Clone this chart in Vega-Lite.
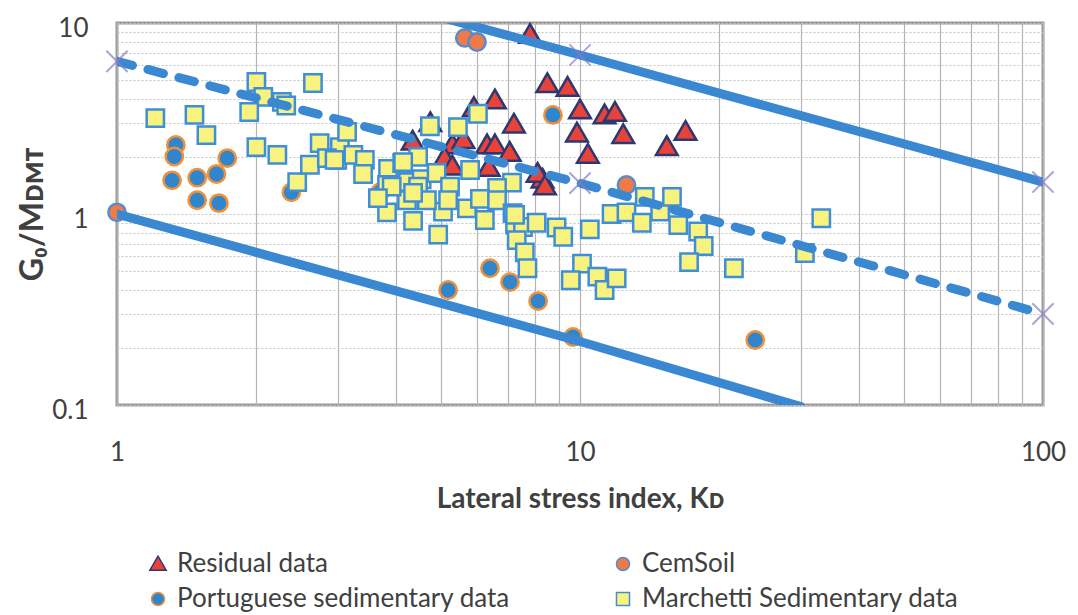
{
  "$schema": "https://vega.github.io/schema/vega-lite/v6.json",
  "autosize": "none",
  "width": 926,
  "height": 382,
  "padding": {"left": 117, "top": 23, "right": 35, "bottom": 210},
  "background": "white",
  "config": {
    "font": "Lato",
    "view": {"stroke": "#9a9a9a", "strokeWidth": 3}
  },
  "datasets": {
    "pts": [
      {"series": "Portuguese sedimentary data", "kd": 1.34, "g": 2.30},
      {"series": "Portuguese sedimentary data", "kd": 1.33, "g": 2.0},
      {"series": "Portuguese sedimentary data", "kd": 1.315, "g": 1.50},
      {"series": "Portuguese sedimentary data", "kd": 1.49, "g": 1.55},
      {"series": "Portuguese sedimentary data", "kd": 1.64, "g": 1.62},
      {"series": "Portuguese sedimentary data", "kd": 1.73, "g": 1.96},
      {"series": "Portuguese sedimentary data", "kd": 1.49, "g": 1.18},
      {"series": "Portuguese sedimentary data", "kd": 1.66, "g": 1.14},
      {"series": "Portuguese sedimentary data", "kd": 2.38, "g": 1.30},
      {"series": "Portuguese sedimentary data", "kd": 3.70, "g": 1.30},
      {"series": "Portuguese sedimentary data", "kd": 6.39, "g": 0.52},
      {"series": "Portuguese sedimentary data", "kd": 7.06, "g": 0.44},
      {"series": "Portuguese sedimentary data", "kd": 5.19, "g": 0.40},
      {"series": "Portuguese sedimentary data", "kd": 8.12, "g": 0.35},
      {"series": "Portuguese sedimentary data", "kd": 9.66, "g": 0.227},
      {"series": "Portuguese sedimentary data", "kd": 23.9, "g": 0.219},
      {"series": "Portuguese sedimentary data", "kd": 8.74, "g": 3.30},
      {"series": "CemSoil", "kd": 5.64, "g": 8.35},
      {"series": "CemSoil", "kd": 5.99, "g": 7.95},
      {"series": "CemSoil", "kd": 12.6, "g": 1.42},
      {"series": "CemSoil", "kd": 1.0, "g": 1.02},
      {"series": "Residual data", "kd": 7.8, "g": 8.7},
      {"series": "Residual data", "kd": 8.5, "g": 4.8},
      {"series": "Residual data", "kd": 9.4, "g": 4.6},
      {"series": "Residual data", "kd": 6.55, "g": 3.95},
      {"series": "Residual data", "kd": 5.9, "g": 3.6},
      {"series": "Residual data", "kd": 10.0, "g": 3.5},
      {"series": "Residual data", "kd": 11.3, "g": 3.3},
      {"series": "Residual data", "kd": 11.9, "g": 3.4},
      {"series": "Residual data", "kd": 7.2, "g": 2.95},
      {"series": "Residual data", "kd": 4.75, "g": 3.0},
      {"series": "Residual data", "kd": 9.85, "g": 2.65},
      {"series": "Residual data", "kd": 12.4, "g": 2.6},
      {"series": "Residual data", "kd": 10.4, "g": 2.05},
      {"series": "Residual data", "kd": 15.4, "g": 2.25},
      {"series": "Residual data", "kd": 16.9, "g": 2.7},
      {"series": "Residual data", "kd": 4.35, "g": 2.4},
      {"series": "Residual data", "kd": 5.3, "g": 2.3},
      {"series": "Residual data", "kd": 5.6, "g": 2.45},
      {"series": "Residual data", "kd": 5.1, "g": 1.97},
      {"series": "Residual data", "kd": 5.3, "g": 1.78},
      {"series": "Residual data", "kd": 6.3, "g": 2.3},
      {"series": "Residual data", "kd": 6.55, "g": 2.3},
      {"series": "Residual data", "kd": 6.35, "g": 1.75},
      {"series": "Residual data", "kd": 7.05, "g": 2.1},
      {"series": "Residual data", "kd": 8.3, "g": 1.52},
      {"series": "Residual data", "kd": 8.1, "g": 1.63},
      {"series": "Residual data", "kd": 8.4, "g": 1.4},
      {"series": "Marchetti Sedimentary data", "kd": 1.21, "g": 3.18},
      {"series": "Marchetti Sedimentary data", "kd": 1.47, "g": 3.30},
      {"series": "Marchetti Sedimentary data", "kd": 1.56, "g": 2.59},
      {"series": "Marchetti Sedimentary data", "kd": 2.0, "g": 4.91},
      {"series": "Marchetti Sedimentary data", "kd": 2.07, "g": 4.10},
      {"series": "Marchetti Sedimentary data", "kd": 1.93, "g": 3.42},
      {"series": "Marchetti Sedimentary data", "kd": 2.27, "g": 3.86},
      {"series": "Marchetti Sedimentary data", "kd": 2.32, "g": 3.7},
      {"series": "Marchetti Sedimentary data", "kd": 2.65, "g": 4.85},
      {"series": "Marchetti Sedimentary data", "kd": 2.0, "g": 2.24},
      {"series": "Marchetti Sedimentary data", "kd": 2.22, "g": 2.04},
      {"series": "Marchetti Sedimentary data", "kd": 2.45, "g": 1.47},
      {"series": "Marchetti Sedimentary data", "kd": 2.61, "g": 1.81},
      {"series": "Marchetti Sedimentary data", "kd": 2.74, "g": 2.35},
      {"series": "Marchetti Sedimentary data", "kd": 3.03, "g": 2.24},
      {"series": "Marchetti Sedimentary data", "kd": 2.84, "g": 1.96},
      {"series": "Marchetti Sedimentary data", "kd": 2.99, "g": 1.92},
      {"series": "Marchetti Sedimentary data", "kd": 3.14, "g": 2.69},
      {"series": "Marchetti Sedimentary data", "kd": 3.24, "g": 2.04},
      {"series": "Marchetti Sedimentary data", "kd": 3.43, "g": 1.92},
      {"series": "Marchetti Sedimentary data", "kd": 3.40, "g": 1.62},
      {"series": "Marchetti Sedimentary data", "kd": 3.85, "g": 1.72},
      {"series": "Marchetti Sedimentary data", "kd": 3.83, "g": 1.42},
      {"series": "Marchetti Sedimentary data", "kd": 4.13, "g": 1.85},
      {"series": "Marchetti Sedimentary data", "kd": 4.47, "g": 1.99},
      {"series": "Marchetti Sedimentary data", "kd": 4.74, "g": 2.88},
      {"series": "Marchetti Sedimentary data", "kd": 5.45, "g": 2.85},
      {"series": "Marchetti Sedimentary data", "kd": 6.02, "g": 3.35},
      {"series": "Marchetti Sedimentary data", "kd": 4.25, "g": 1.47},
      {"series": "Marchetti Sedimentary data", "kd": 4.55, "g": 1.52},
      {"series": "Marchetti Sedimentary data", "kd": 4.9, "g": 1.64},
      {"series": "Marchetti Sedimentary data", "kd": 5.79, "g": 1.70},
      {"series": "Marchetti Sedimentary data", "kd": 7.13, "g": 1.46},
      {"series": "Marchetti Sedimentary data", "kd": 6.62, "g": 1.37},
      {"series": "Marchetti Sedimentary data", "kd": 4.47, "g": 1.39},
      {"series": "Marchetti Sedimentary data", "kd": 5.24, "g": 1.39},
      {"series": "Marchetti Sedimentary data", "kd": 3.83, "g": 1.02},
      {"series": "Marchetti Sedimentary data", "kd": 5.06, "g": 1.03},
      {"series": "Marchetti Sedimentary data", "kd": 4.23, "g": 1.18},
      {"series": "Marchetti Sedimentary data", "kd": 4.67, "g": 1.18},
      {"series": "Marchetti Sedimentary data", "kd": 5.19, "g": 1.18},
      {"series": "Marchetti Sedimentary data", "kd": 5.7, "g": 1.07},
      {"series": "Marchetti Sedimentary data", "kd": 6.08, "g": 1.20},
      {"series": "Marchetti Sedimentary data", "kd": 6.62, "g": 1.18},
      {"series": "Marchetti Sedimentary data", "kd": 7.15, "g": 1.01},
      {"series": "Marchetti Sedimentary data", "kd": 4.36, "g": 0.92},
      {"series": "Marchetti Sedimentary data", "kd": 4.94, "g": 0.78},
      {"series": "Marchetti Sedimentary data", "kd": 6.23, "g": 0.93},
      {"series": "Marchetti Sedimentary data", "kd": 7.24, "g": 0.88},
      {"series": "Marchetti Sedimentary data", "kd": 7.53, "g": 0.855},
      {"series": "Marchetti Sedimentary data", "kd": 7.3, "g": 0.73},
      {"series": "Marchetti Sedimentary data", "kd": 7.6, "g": 0.63},
      {"series": "Marchetti Sedimentary data", "kd": 7.7, "g": 0.52},
      {"series": "Marchetti Sedimentary data", "kd": 8.06, "g": 0.90},
      {"series": "Marchetti Sedimentary data", "kd": 8.9, "g": 0.85},
      {"series": "Marchetti Sedimentary data", "kd": 9.2, "g": 0.76},
      {"series": "Marchetti Sedimentary data", "kd": 10.5, "g": 0.83},
      {"series": "Marchetti Sedimentary data", "kd": 10.1, "g": 0.55},
      {"series": "Marchetti Sedimentary data", "kd": 9.55, "g": 0.45},
      {"series": "Marchetti Sedimentary data", "kd": 10.9, "g": 0.47},
      {"series": "Marchetti Sedimentary data", "kd": 11.3, "g": 0.40},
      {"series": "Marchetti Sedimentary data", "kd": 12.0, "g": 0.46},
      {"series": "Marchetti Sedimentary data", "kd": 11.7, "g": 1.0},
      {"series": "Marchetti Sedimentary data", "kd": 12.6, "g": 1.02},
      {"series": "Marchetti Sedimentary data", "kd": 13.6, "g": 0.90},
      {"series": "Marchetti Sedimentary data", "kd": 14.9, "g": 1.03},
      {"series": "Marchetti Sedimentary data", "kd": 16.3, "g": 0.875},
      {"series": "Marchetti Sedimentary data", "kd": 18.0, "g": 0.81},
      {"series": "Marchetti Sedimentary data", "kd": 18.5, "g": 0.68},
      {"series": "Marchetti Sedimentary data", "kd": 17.2, "g": 0.56},
      {"series": "Marchetti Sedimentary data", "kd": 21.5, "g": 0.52},
      {"series": "Marchetti Sedimentary data", "kd": 30.6, "g": 0.625},
      {"series": "Marchetti Sedimentary data", "kd": 33.2, "g": 0.95},
      {"series": "Marchetti Sedimentary data", "kd": 13.8, "g": 1.23},
      {"series": "Marchetti Sedimentary data", "kd": 15.8, "g": 1.23},
      {"series": "Marchetti Sedimentary data", "kd": 4.36, "g": 1.29},
      {"series": "Marchetti Sedimentary data", "kd": 4.15, "g": 1.87},
      {"series": "Marchetti Sedimentary data", "kd": 2.95, "g": 1.92},
      {"series": "Marchetti Sedimentary data", "kd": 7.24, "g": 0.99},
      {"series": "Marchetti Sedimentary data", "kd": 3.92, "g": 1.39},
      {"series": "Marchetti Sedimentary data", "kd": 3.66, "g": 1.21}
    ],
    "lines": [
      {"line": "upper", "kd": 4.5, "g": 11.5},
      {"line": "upper", "kd": 10, "g": 6.8},
      {"line": "upper", "kd": 100, "g": 1.47},
      {"line": "middle", "kd": 1, "g": 6.3},
      {"line": "middle", "kd": 10, "g": 1.45},
      {"line": "middle", "kd": 100, "g": 0.30},
      {"line": "lower", "kd": 1, "g": 1.0},
      {"line": "lower", "kd": 10, "g": 0.215},
      {"line": "lower", "kd": 30, "g": 0.098}
    ],
    "stars": [
      {"kd": 1, "g": 6.3},
      {"kd": 10, "g": 1.45},
      {"kd": 100, "g": 0.30},
      {"kd": 10, "g": 6.8},
      {"kd": 100, "g": 1.47}
    ]
  },
  "layer": [
    {
      "data": {"name": "pts"},
      "mark": {"type": "point", "filled": true, "size": 300, "strokeWidth": 2.5, "opacity": 1},
      "encoding": {
        "x": {
          "field": "kd", "type": "quantitative",
          "scale": {"type": "log", "domain": [1, 100], "nice": false},
          "axis": {
            "values": [1,2,3,4,5,6,7,8,9,10,20,30,40,50,60,70,80,90,100],
            "format": "~g",
            "labelExpr": "(datum.value == 1 || datum.value == 10 || datum.value == 100) ? datum.label : ''",
            "ticks": false, "domain": false,
            "grid": true, "gridColor": "#b4b4b4", "gridWidth": 1.2,
            "labelFontSize": 26, "labelColor": "#404040", "labelPadding": 34,
            "labelFlush": false,
            "title": "Lateral stress index, Kᴅ",
            "titleFontSize": 28, "titleFontWeight": "bold", "titleColor": "#404040",
            "titlePadding": 20
          }
        },
        "y": {
          "field": "g", "type": "quantitative",
          "scale": {"type": "log", "domain": [0.1, 10], "nice": false},
          "axis": {
            "values": [0.1,0.2,0.3,0.4,0.5,0.6,0.7,0.8,0.9,1,2,3,4,5,6,7,8,9,10],
            "format": "~g",
            "labelExpr": "(datum.value == 0.1 || datum.value == 1 || datum.value == 10) ? datum.label : ''",
            "ticks": false, "domain": false,
            "grid": true, "gridColor": "#c4c4c4", "gridWidth": 1, "gridDash": [2, 2],
            "labelFontSize": 26, "labelColor": "#404040", "labelPadding": 29,
            "labelOffset": 5, "labelFlush": false,
            "title": "G₀/Mᴅᴍᴛ",
            "titleFontSize": 32, "titleFontWeight": "bold", "titleColor": "#404040",
            "titlePadding": 2
          }
        },
        "shape": {
          "field": "series", "type": "nominal",
          "scale": {
            "domain": ["Residual data", "CemSoil", "Portuguese sedimentary data", "Marchetti Sedimentary data"],
            "range": ["M0,-1.2L1.25,0.95L-1.25,0.95Z", "circle", "circle", "square"]
          },
          "legend": {
            "orient": "none", "legendX": 28, "legendY": 528,
            "direction": "horizontal", "columns": 2, "title": null,
            "columnPadding": 100, "rowPadding": 9,
            "labelFontSize": 26, "labelColor": "#404040", "labelOffset": 6,
            "symbolSize": 170, "symbolStrokeWidth": 1.5, "labelLimit": 600
          }
        },
        "fill": {
          "field": "series", "type": "nominal",
          "scale": {
            "domain": ["Residual data", "CemSoil", "Portuguese sedimentary data", "Marchetti Sedimentary data"],
            "range": ["#e8433a", "#f07a45", "#2f86cc", "#f8f27e"]
          }
        },
        "stroke": {
          "field": "series", "type": "nominal",
          "scale": {
            "domain": ["Residual data", "CemSoil", "Portuguese sedimentary data", "Marchetti Sedimentary data"],
            "range": ["#2d3870", "#5a8acb", "#f0903a", "#3f8fd8"]
          }
        }
      }
    },
    {
      "data": {"name": "lines"},
      "transform": [{"filter": "datum.line != 'middle'"}],
      "mark": {"type": "line", "clip": true, "color": "#3a88d2", "strokeWidth": 9, "strokeCap": "round"},
      "encoding": {
        "x": {"field": "kd", "type": "quantitative"},
        "y": {"field": "g", "type": "quantitative"},
        "detail": {"field": "line"}
      }
    },
    {
      "data": {"name": "lines"},
      "transform": [{"filter": "datum.line == 'middle'"}],
      "mark": {"type": "line", "clip": true, "color": "#3a88d2", "strokeWidth": 9, "strokeCap": "round", "strokeDash": [16, 16]},
      "encoding": {
        "x": {"field": "kd", "type": "quantitative"},
        "y": {"field": "g", "type": "quantitative"}
      }
    },
    {
      "data": {"name": "stars"},
      "mark": {"type": "point", "shape": "M-1,-1L1,1M-1,1L1,-1", "filled": false, "size": 450, "color": "#8a7cc4", "strokeWidth": 2},
      "encoding": {
        "x": {"field": "kd", "type": "quantitative"},
        "y": {"field": "g", "type": "quantitative"}
      }
    }
  ]
}
